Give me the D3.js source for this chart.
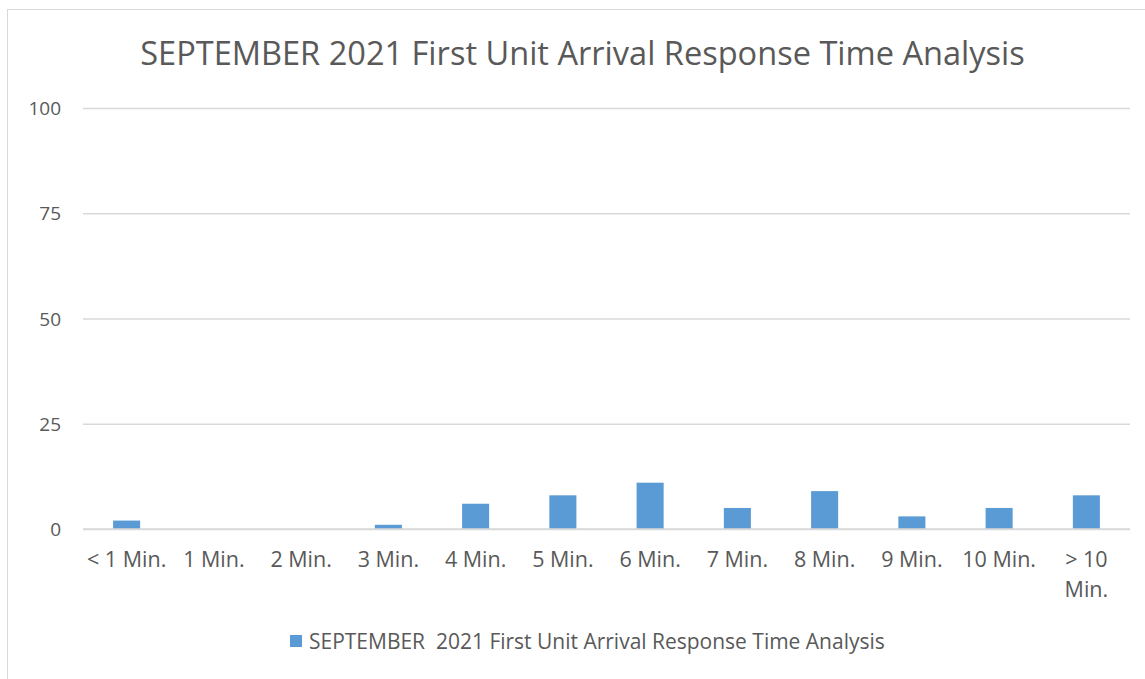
<!DOCTYPE html>
<html><head><meta charset="utf-8">
<script src="https://cdn.jsdelivr.net/npm/d3@7"></script>
<style>body{margin:0;background:#fff}svg{display:block}text{font-family:"Open Sans","Noto Sans",sans-serif;fill:#595959;white-space:pre}</style>
</head><body><svg id="c" width="1145" height="679"></svg>
<script>
const categories = ["< 1 Min.","1 Min.","2 Min.","3 Min.","4 Min.","5 Min.","6 Min.","7 Min.","8 Min.","9 Min.","10 Min.","> 10 Min."];
const values = [2,0,0,1,6,8,11,5,9,3,5,8];
const yTicks = [0,25,50,75,100];
const title = "SEPTEMBER 2021 First Unit Arrival Response Time Analysis";
const seriesName = "SEPTEMBER  2021 First Unit Arrival Response Time Analysis";

const svg = d3.select("#c");
const m = {left:83, right:1130, top:108, bottom:529};
svg.append("rect").attr("x",7.5).attr("y",9.5).attr("width",1200).attr("height",700)
  .attr("fill","none").attr("stroke","#d9d9d9");

const x = d3.scaleBand().domain(categories).range([m.left,m.right]).paddingInner(0.69).paddingOuter(0.345);
const y = d3.scaleLinear().domain([0,100]).range([m.bottom,m.top]);

function fit(sel, w){ const n=sel.node(); const cur=n.getComputedTextLength(); const fs=parseFloat(sel.attr("font-size")); sel.attr("font-size", fs*w/cur); }

const t = svg.append("text").attr("x",(140+1025)/2).attr("y",65).attr("text-anchor","middle").attr("font-size",32).text(title);
fit(t, 885);

const ya = svg.append("g").attr("transform",`translate(${m.left},0)`)
  .call(d3.axisLeft(y).tickValues(yTicks).tickSize(-(m.right-m.left)).tickPadding(22));
ya.select(".domain").remove();
ya.selectAll(".tick line").attr("stroke","#d9d9d9").attr("stroke-width",1.3);
ya.selectAll(".tick text").attr("font-size",19).attr("fill","#595959").style("font-family",'"Open Sans",sans-serif').attr("dy","0.35em");

svg.append("g").selectAll("rect").data(values).join("rect")
  .attr("x",(d,i)=>x(categories[i])).attr("width",x.bandwidth())
  .attr("y",d=>y(d)).attr("height",d=>y(0)-y(d)).attr("fill","#5b9bd5");

svg.append("line").attr("x1",m.left).attr("x2",m.right).attr("y1",y(0)).attr("y2",y(0)).attr("stroke","#d9d9d9").attr("stroke-width",1.3);

const xa = svg.append("g");
categories.forEach(c=>{
  const cx = x(c)+x.bandwidth()/2;
  const lines = c === "> 10 Min." ? ["> 10","Min."] : [c];
  lines.forEach((l,j)=>{
    xa.append("text").attr("x",cx).attr("y",567+j*30).attr("text-anchor","middle").attr("font-size",21.5).text(l);
  });
});

svg.append("rect").attr("x",290).attr("y",635).attr("width",12).attr("height",12).attr("fill","#5b9bd5");
const lt = svg.append("text").attr("x",309).attr("y",649).attr("font-size",19).text(seriesName);
fit(lt, 576);
</script></body></html>
